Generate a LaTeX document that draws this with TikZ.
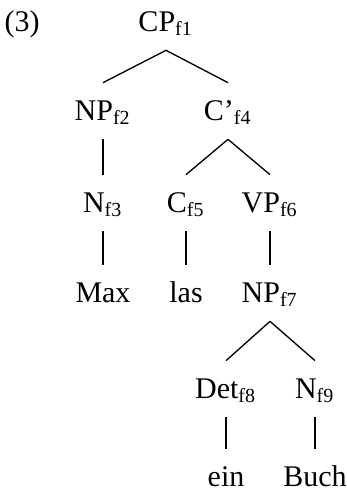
\documentclass[tikz,border=0pt]{standalone}
\usepackage{fontspec}
\setmainfont{Liberation Serif}
\usepackage{tikz}

\begin{document}
\begin{tikzpicture}
[x=0.3pt,y=-0.3pt,
cat/.style={inner sep=4.2pt,text height=7pt,text depth=1.2pt},
br/.style={draw=black,line width=0.4pt},font=\fontsize{9pt}{11pt}\selectfont]
\useasboundingbox (0,0) rectangle (347,490);
\node[cat] (exnum) at (22,22) {(3)};
%%%%% LEVEL 0
\node[cat] (cp) at (166,22) {CP\textsubscript{f1}};
%%%%% LEVEL 1
\node[cat] (np) at (103,111) {NP\textsubscript{f2}};
\node[cat] (cbar) at (228,111) {C’\textsubscript{f4}};
%%%%% LEVEL 2
\node[cat] (n) at (103,203) {N\textsubscript{f3}};
\node[cat] (c) at (186,203) {C\textsubscript{f5}};
\node[cat] (vp) at (270,203) {VP\textsubscript{f6}};
%%%%% LEVEL 3
\node[cat] (max) at (103,293) {Max};
\node[cat] (las) at (186,293) {las};
\node[cat] (npb) at (270,293) {NP\textsubscript{f7}};
%%%%% LEVEL 4
\node[cat] (det) at (226,389) {Det\textsubscript{f8}};
\node[cat] (nb) at (315,389) {N\textsubscript{f9}};
%%%%% LEVEL 5
\node[cat] (ein) at (226,477) {ein};
\node[cat] (buch) at (315,477) {Buch};
%%%%% BRANCHES
\foreach \a/\b in {cp/np,cp/cbar,np/n,cbar/c,cbar/vp,n/max,c/las,vp/npb,npb/det,npb/nb,det/ein,nb/buch}
{
	\path[br] (\a.south) edge (\b.north);
};
\end{tikzpicture}
\end{document}
